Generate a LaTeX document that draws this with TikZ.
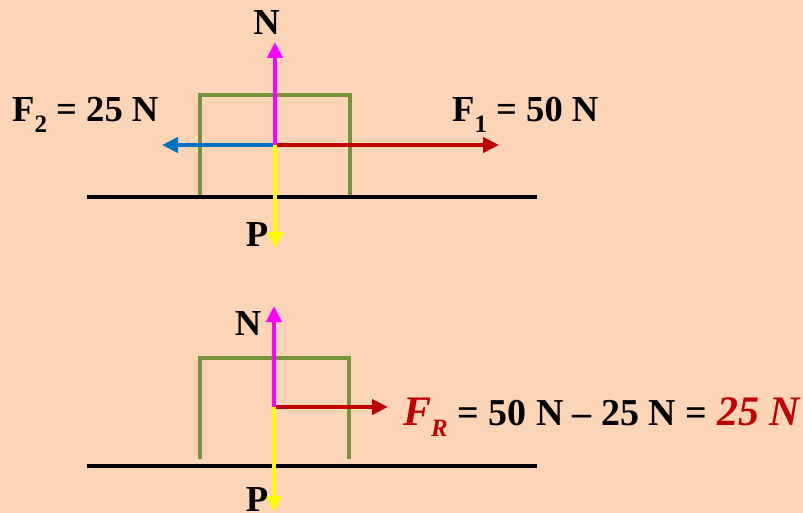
\documentclass[tikz,border=0pt]{standalone}
\usepackage{fontspec}
\setmainfont{Liberation Serif}
\usetikzlibrary{arrows.meta}
\definecolor{bg}{RGB}{251,213,181}
\definecolor{boxgreen}{RGB}{118,146,60}
\definecolor{fblue}{RGB}{0,112,192}
\definecolor{fred}{RGB}{192,0,0}
\definecolor{fmag}{RGB}{255,0,255}
\definecolor{fyel}{RGB}{255,255,0}
\newcommand{\lbl}[1]{\fontsize{36.6}{40}\selectfont\bfseries #1}
\newcommand{\lblb}[1]{\fontsize{38}{42}\selectfont\bfseries #1}
\newcommand{\subs}[1]{\raisebox{-0.28em}{\fontsize{25}{25}\selectfont #1}}
\begin{document}
\begin{tikzpicture}[x=1pt,y=-1pt,
  force/.style={line width=4pt,-{Triangle[length=16pt,width=15pt]}},
  ground/.style={line width=4pt,black},
  body/.style={line width=4pt,boxgreen,line join=miter},
  txt/.style={inner sep=0pt,anchor=base,font=\lbl{}}]
\fill[bg] (0,0) rectangle (803,513);
\useasboundingbox (0,0) rectangle (803,513);
% ---------- top diagram ----------
\coordinate (O1) at (275,145);
\coordinate (N1tip) at (275,42);
\coordinate (P1tip) at (275,248);
\coordinate (F1tip) at (499,145);
\coordinate (F2tip) at (162,145);
\coordinate (G1a) at (87,197);
\coordinate (G1b) at (537,197);
\draw[body] (200,197) -- (200,95) -- (350,95) -- (350,197);
\draw[ground] (G1a) -- (G1b);
\draw[force,fblue] (O1) -- (F2tip);
\draw[force,fred] (O1) -- (F1tip);
\draw[force,fyel] (O1) -- (P1tip);
\draw[force,fmag] (O1) -- (N1tip);
\node[txt] (N1) at (266.5,35) {\lbl{N}};
\node[txt] (P1) at (257,247) {\lbl{P}};
\node[txt,anchor=base west] (F2) at (12,122) {\lbl{F\subs{2} = 25 N}};
\node[txt,anchor=base west] (F1) at (452,122) {\lbl{F\subs{1} = 50 N}};
% ---------- bottom diagram ----------
\coordinate (O2) at (274,407);
\coordinate (N2tip) at (274,306);
\coordinate (P2tip) at (274,512);
\coordinate (FRtip) at (388,407);
\coordinate (G2a) at (87,466);
\coordinate (G2b) at (537,466);
\draw[body] (200,459) -- (200,358) -- (349,358) -- (349,459);
\draw[ground] (G2a) -- (G2b);
\draw[force,fred] (O2) -- (FRtip);
\draw[force,fyel] (O2) -- (P2tip);
\draw[force,fmag] (O2) -- (N2tip);
\node[txt] (N2) at (248,335) {\lbl{N}};
\node[txt] (P2) at (257,511) {\lbl{P}};
\node[txt,anchor=base west] (FR) at (403,425) {\lblb{{\color{fred}\fontsize{42}{46}\selectfont\itshape F\subs{R}} = 50 N -- 25 N = {\color{fred}\fontsize{42}{46}\selectfont\itshape 25 N}}};
\end{tikzpicture}
\end{document}
